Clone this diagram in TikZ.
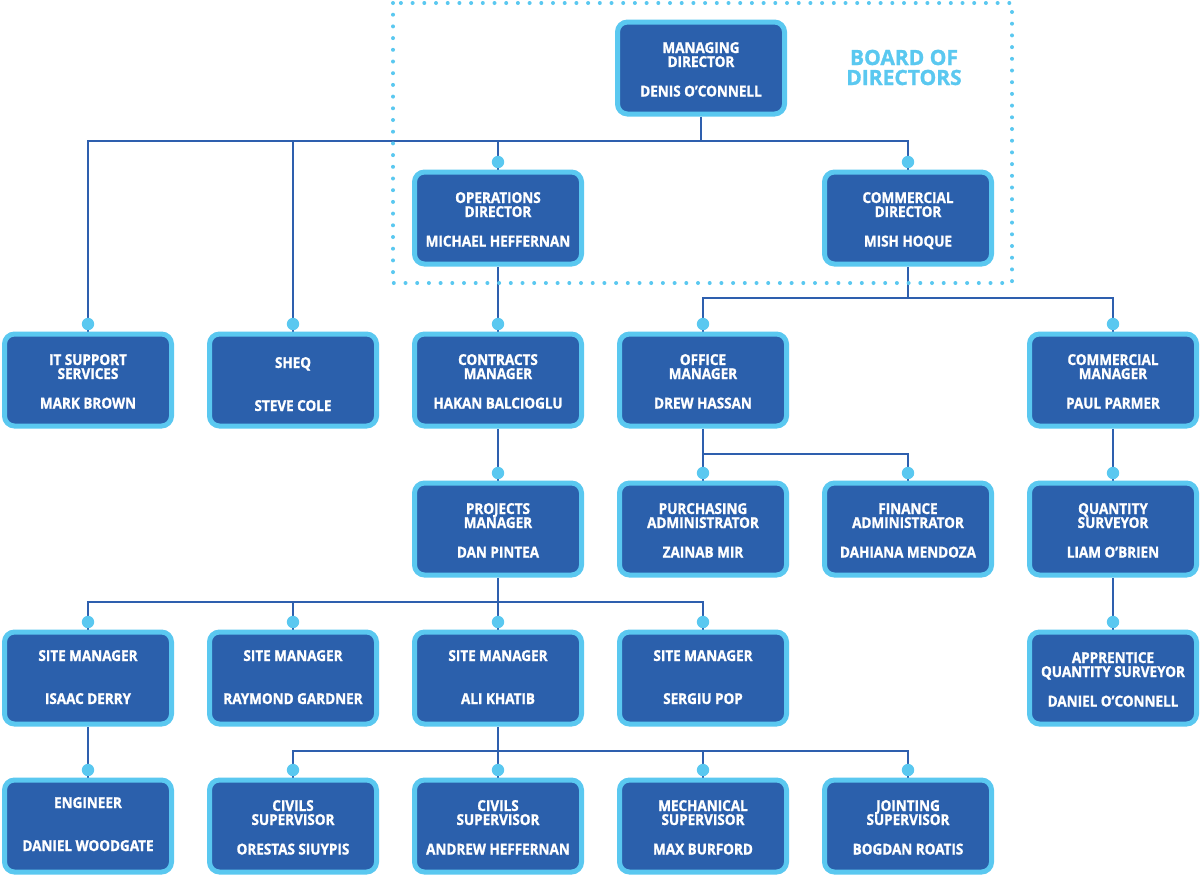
\documentclass[tikz,border=0pt]{standalone}
\usepackage{fontspec}
\newfontfamily\boxfont{Open Sans}[FakeStretch=0.9, BoldFeatures={FakeBold=1.2}]
\newfontfamily\bodfont{Open Sans}[BoldFeatures={FakeBold=1.2}]
\usetikzlibrary{calc,backgrounds}
\definecolor{darkb}{HTML}{2B60AC}
\definecolor{lightb}{HTML}{5AC8F0}
\definecolor{lineb}{HTML}{2E5FAE}
\tikzset{
  orgbox/.style={draw=lightb, line width=5pt, fill=darkb, rounded corners=10pt,
    minimum width=167pt, minimum height=92pt, inner sep=0pt},
  txt/.style={anchor=base, inner sep=0pt, text=white,
    font=\boxfont\bfseries\fontsize{15}{16}\selectfont},
  conn/.style={draw=lineb, line width=2.7pt},
  dotted border/.style={draw=lightb, line width=4pt, line cap=round, dash pattern=on 0pt off 11.7pt},
  bodtxt/.style={anchor=base, inner sep=0pt, text=lightb,
    font=\bodfont\bfseries\fontsize{21}{22}\selectfont}
}
% two-line title
\newcommand\oboxii[6]{%
  \node[orgbox] (#1) at (#2,#3) {};
  \node[txt] (#1-t1) at (#2,{#3-15}) {#4};
  \node[txt] (#1-t2) at (#2,{#3-1}) {#5};
  \node[txt] (#1-n) at (#2,{#3+28.5}) {#6};
}
% one-line title
\newcommand\oboxi[5]{%
  \node[orgbox] (#1) at (#2,#3) {};
  \node[txt] (#1-t1) at (#2,{#3+#4}) {#5};
}
\newcommand\pname[3]{\node[txt] (#1-n) at ($(#1.center)+(0,#2)$) {#3};}
\newcommand\tdot[1]{\fill[lightb] ($(#1.north)+(0,-7.5)$) circle (6.2pt);}
\begin{document}
\begin{tikzpicture}[x=1pt,y=-1pt]
\useasboundingbox (0,0) rectangle (1200,876);
% board of directors dotted frame
\draw[dotted border] (393,3) rectangle (1012,283);
\node[bodtxt] (bod1) at (904,65) {BOARD OF};
\node[bodtxt] (bod2) at (904,85) {DIRECTORS};

% boxes
\oboxii{md}{701}{68}{MANAGING}{DIRECTOR}{DENIS O’CONNELL}
\oboxii{ops}{498}{218}{OPERATIONS}{DIRECTOR}{MICHAEL HEFFERNAN}
\oboxii{com}{908}{218}{COMMERCIAL}{DIRECTOR}{MISH HOQUE}

\oboxii{it}{88}{380}{IT SUPPORT}{SERVICES}{MARK BROWN}
\oboxi{sheq}{293}{380}{-12}{SHEQ}
\pname{sheq}{31}{STEVE COLE}
\oboxii{con}{498}{380}{CONTRACTS}{MANAGER}{HAKAN BALCIOGLU}
\oboxii{off}{703}{380}{OFFICE}{MANAGER}{DREW HASSAN}
\oboxii{cmm}{1113}{380}{COMMERCIAL}{MANAGER}{PAUL PARMER}

\oboxii{pm}{498}{529}{PROJECTS}{MANAGER}{DAN PINTEA}
\oboxii{pur}{703}{529}{PURCHASING}{ADMINISTRATOR}{ZAINAB MIR}
\oboxii{fin}{908}{529}{FINANCE}{ADMINISTRATOR}{DAHIANA MENDOZA}
\oboxii{qs}{1113}{529}{QUANTITY}{SURVEYOR}{LIAM O’BRIEN}

\oboxi{sm1}{88}{678}{-17}{SITE MANAGER}
\pname{sm1}{26}{ISAAC DERRY}
\oboxi{sm2}{293}{678}{-17}{SITE MANAGER}
\pname{sm2}{26}{RAYMOND GARDNER}
\oboxi{sm3}{498}{678}{-17}{SITE MANAGER}
\pname{sm3}{26}{ALI KHATIB}
\oboxi{sm4}{703}{678}{-17}{SITE MANAGER}
\pname{sm4}{26}{SERGIU POP}
\oboxii{aqs}{1113}{678}{APPRENTICE}{QUANTITY SURVEYOR}{DANIEL O’CONNELL}

\oboxi{eng}{88}{826}{-18}{ENGINEER}
\pname{eng}{25}{DANIEL WOODGATE}
\oboxii{cs1}{293}{826}{CIVILS}{SUPERVISOR}{ORESTAS SIUYPIS}
\oboxii{cs2}{498}{826}{CIVILS}{SUPERVISOR}{ANDREW HEFFERNAN}
\oboxii{ms}{703}{826}{MECHANICAL}{SUPERVISOR}{MAX BURFORD}
\oboxii{js}{908}{826}{JOINTING}{SUPERVISOR}{BOGDAN ROATIS}

% bus coordinates
\coordinate (b-md) at (701,141);
\coordinate (b-com) at (908,298);
\coordinate (b-off) at (703,454);
\coordinate (b-pm) at (498,602);
\coordinate (b-sm3) at (498,751);

\begin{scope}[on background layer]
  \fill[white] (0,0) rectangle (1200,876);
  % managing director
  \draw[conn] (md.south) -- (b-md);
  \draw[conn] (it.north) |- (b-md) -| (com.north);
  \draw[conn] (sheq.north) -- (sheq.north |- b-md);
  \draw[conn] (ops.north) -- (ops.north |- b-md);
  % operations
  \draw[conn] (ops.south) -- (con.north);
  \draw[conn] (con.south) -- (pm.north);
  % commercial director
  \draw[conn] (com.south) -- (b-com);
  \draw[conn] (off.north) |- (b-com) -| (cmm.north);
  \draw[conn] (cmm.south) -- (qs.north);
  \draw[conn] (qs.south) -- (aqs.north);
  % office manager
  \draw[conn] (off.south) -- (b-off) -| (fin.north);
  \draw[conn] (b-off) -- (pur.north);
  % projects manager
  \draw[conn] (pm.south) -- (b-pm);
  \draw[conn] (sm1.north) |- (b-pm) -| (sm4.north);
  \draw[conn] (sm2.north) -- (sm2.north |- b-pm);
  \draw[conn] (sm3.north) -- (b-pm);
  % site managers
  \draw[conn] (sm1.south) -- (eng.north);
  \draw[conn] (sm3.south) -- (b-sm3);
  \draw[conn] (cs1.north) |- (b-sm3) -| (js.north);
  \draw[conn] (cs2.north) -- (b-sm3);
  \draw[conn] (ms.north) -- (ms.north |- b-sm3);
\end{scope}

% connection dots
\foreach \n in {ops,com,it,sheq,con,off,cmm,pm,pur,fin,qs,aqs,sm1,sm2,sm3,sm4,eng,cs1,cs2,ms,js}
  {\tdot{\n}}
\end{tikzpicture}
\end{document}
